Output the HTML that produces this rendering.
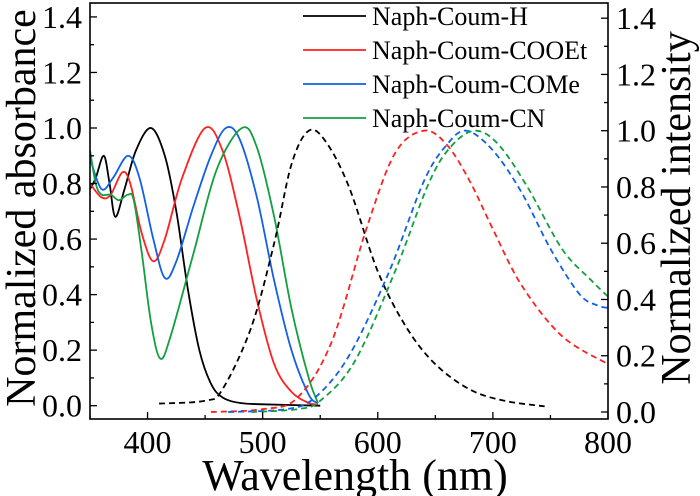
<!DOCTYPE html>
<html><head><meta charset="utf-8"><style>
html,body{margin:0;padding:0;background:#fff}
svg{display:block;font-family:"Liberation Serif",serif}
</style></head><body>
<svg id="c" width="700" height="496" viewBox="0 0 700 496"></svg>
<script>
const wavelengthTicks=[400,500,600,700,800];
const yTicks=[0,0.2,0.4,0.6,0.8,1.0,1.2,1.4];
const seriesNames=["Naph-Coum-H","Naph-Coum-COOEt","Naph-Coum-COMe","Naph-Coum-CN"];
const seriesColors=["#000000","#ff2020","#1060e8","#10a040"];
const absH_x=[350,355,362,367,372,380,390,403,415,425,435,445,455,465,480,500,550];
const absH_y=[0.78,0.82,0.90,0.80,0.68,0.78,0.92,1.0,0.9,0.7,0.42,0.2,0.08,0.03,0.01,0.005,0.0];
const absE_x=[350,360,368,378,385,395,405,415,430,450,465,480,495,510,525,540,548];
const absE_y=[0.80,0.75,0.76,0.84,0.8,0.62,0.52,0.6,0.82,1.0,0.92,0.68,0.38,0.15,0.05,0.01,0.005];
const absM_x=[350,360,370,383,393,405,415,425,440,455,468,480,495,510,525,540,548];
const absM_y=[0.89,0.78,0.82,0.9,0.82,0.6,0.46,0.52,0.72,0.9,1.0,0.96,0.75,0.45,0.2,0.04,0.01];
const absC_x=[350,355,360,368,375,383,388,395,403,411,420,440,460,482,495,510,525,540,548];
const absC_y=[0.92,0.80,0.76,0.76,0.74,0.76,0.74,0.55,0.3,0.17,0.25,0.55,0.85,1.0,0.93,0.68,0.35,0.1,0.01];
const emH_x=[410,450,465,490,510,525,540,555,575,600,625,650,680,710,745];
const emH_y=[0.03,0.04,0.08,0.3,0.6,0.88,1.0,0.96,0.8,0.5,0.3,0.17,0.08,0.04,0.02];
const emE_x=[455,500,530,560,590,615,640,660,680,700,725,760,800];
const emE_y=[0,0.01,0.05,0.25,0.65,0.92,1.0,0.95,0.82,0.65,0.45,0.27,0.17];
const emM_x=[470,520,545,575,610,640,660,677,700,725,750,775,790,800];
const emM_y=[0,0.01,0.05,0.2,0.5,0.82,0.95,1.0,0.93,0.78,0.58,0.42,0.38,0.37];
const emC_x=[490,530,550,580,615,645,665,685,705,730,760,785,800];
const emC_y=[0,0.01,0.04,0.18,0.5,0.82,0.95,1.0,0.95,0.8,0.58,0.47,0.41];

const NS="http://www.w3.org/2000/svg";
const svg=document.getElementById('c');
const L=90,R=608,T=3,B=419;
const X=w=>L+(w-350)*(R-L)/450;
const YL=v=>405.7-v*277.7;
const YR=v=>412-v*281.3;
function el(t,a,p){const e=document.createElementNS(NS,t);for(const k in a)e.setAttribute(k,a[k]);(p||svg).appendChild(e);return e;}
function smooth(pts){let d="M"+pts[0][0]+","+pts[0][1];for(let i=0;i<pts.length-1;i++){const p0=pts[Math.max(0,i-1)],p1=pts[i],p2=pts[i+1],p3=pts[Math.min(pts.length-1,i+2)];const c1=[p1[0]+(p2[0]-p0[0])/6,p1[1]+(p2[1]-p0[1])/6],c2=[p2[0]-(p3[0]-p1[0])/6,p2[1]-(p3[1]-p1[1])/6];d+=" C"+c1[0]+","+c1[1]+" "+c2[0]+","+c2[1]+" "+p2[0]+","+p2[1];}return d;}

const clip=el('clipPath',{id:'pc'});el('rect',{x:L,y:T,width:R-L,height:B-T},clip);
const g=el('g',{'clip-path':'url(#pc)'});
const abs=[[absH_x,absH_y],[absE_x,absE_y],[absM_x,absM_y],[absC_x,absC_y]];
const em=[[emH_x,emH_y],[emE_x,emE_y],[emM_x,emM_y],[emC_x,emC_y]];
const keys=["h","cooet","come","cn"];
abs.forEach((s,i)=>{const p=el('path',{d:smooth(s[0].map((w,j)=>[X(w),YL(s[1][j])])),fill:'none',stroke:seriesColors[i],'stroke-width':1.8},g);

});
em.forEach((s,i)=>{const p=el('path',{d:smooth(s[0].map((w,j)=>[X(w),YR(s[1][j])])),fill:'none',stroke:seriesColors[i],'stroke-width':1.8,'stroke-dasharray':'6,4'},g);

});

el('rect',{x:L,y:T,width:R-L,height:B-T,fill:'none',stroke:'#000','stroke-width':1.6,});
wavelengthTicks.forEach(w=>{el('line',{x1:X(w),x2:X(w),y1:B,y2:B-7,stroke:'#000','stroke-width':1.3});
el('line',{x1:X(w-50),x2:X(w-50),y1:B,y2:B-4,stroke:'#000','stroke-width':1.3});
const t=el('text',{x:X(w),y:453,'font-size':32,'text-anchor':'middle'});t.textContent=w;

});
yTicks.forEach(v=>{el('line',{x1:L,x2:L+7,y1:YL(v),y2:YL(v),stroke:'#000','stroke-width':1.3});
el('line',{x1:L,x2:L+4,y1:YL(v+0.1),y2:YL(v+0.1),stroke:'#000','stroke-width':1.3});
const t=el('text',{x:L-8,y:YL(v)+11,'font-size':32,'text-anchor':'end'});t.textContent=v.toFixed(1);


el('line',{x1:R,x2:R-7,y1:YR(v),y2:YR(v),stroke:'#000','stroke-width':1.3});
el('line',{x1:R,x2:R-4,y1:YR(v+0.1),y2:YR(v+0.1),stroke:'#000','stroke-width':1.3});
const t2=el('text',{x:R+8,y:YR(v)+11,'font-size':32});t2.textContent=v.toFixed(1);

});
const xt=el('text',{x:(L+R)/2+6,y:490,'font-size':44,'text-anchor':'middle',});xt.textContent="Wavelength (nm)";
const yt=el('text',{transform:'translate(35,208) rotate(-90)','font-size':42,'text-anchor':'middle',});yt.textContent="Normalized absorbance";
const yr=el('text',{transform:'translate(690,208) rotate(-90)','font-size':42,'text-anchor':'middle',});yr.textContent="Normalized intensity";
seriesNames.forEach((n,i)=>{const y=16+i*34;
const l=el('line',{x1:303,x2:366,y1:y,y2:y,stroke:seriesColors[i],'stroke-width':1.8});


const t=el('text',{x:372,y:y+9,'font-size':26});t.textContent=n;

});
</script>
</body></html>
